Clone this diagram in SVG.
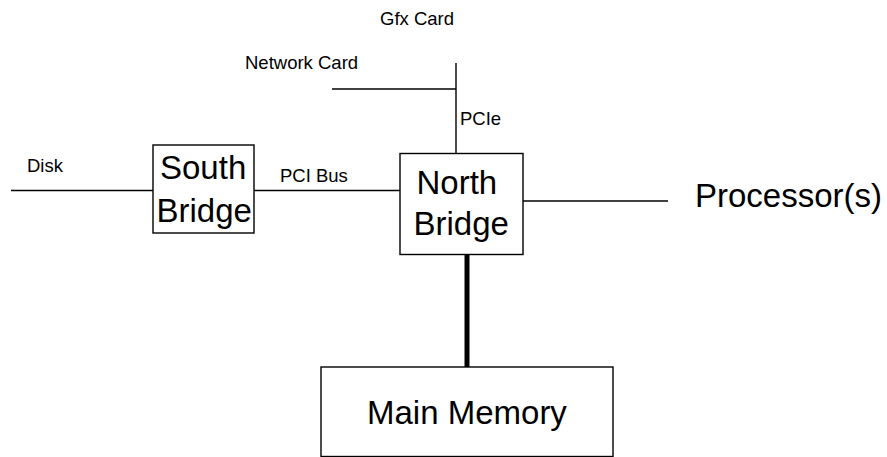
<svg xmlns="http://www.w3.org/2000/svg" width="887" height="457" viewBox="0 0 887 457">
  <style>
    .box { fill: #fff; stroke: #000; stroke-width: 1.4; }
    .wire { stroke: #000; stroke-width: 1.4; fill: none; }
    .bus { stroke: #000; stroke-width: 5; fill: none; }
    .big { font-family: "Liberation Sans", Arial, sans-serif; font-size: 33px; fill: #000; }
    .small { font-family: "Liberation Sans", Arial, sans-serif; font-size: 18.5px; fill: #000; }
  </style>
  <rect width="887" height="457" fill="#fff"/>

  <g id="connectors">
    <line class="wire" x1="11" y1="190.5" x2="153" y2="190.5"/>
    <line class="wire" x1="254" y1="190.5" x2="400" y2="190.5"/>
    <line class="wire" x1="523" y1="201" x2="668" y2="201"/>
    <line class="wire" x1="456" y1="63" x2="456" y2="153"/>
    <line class="wire" x1="332" y1="89" x2="456" y2="89"/>
    <line class="bus" x1="467" y1="254" x2="467" y2="367"/>
  </g>

  <g id="labels">
    <text class="small" x="27" y="171.5">Disk</text>
    <text class="small" x="280" y="181.5">PCI Bus</text>
    <text class="small" x="460" y="125">PCIe</text>
    <text class="small" x="245" y="68.5">Network Card</text>
    <text class="small" x="380" y="24.5">Gfx Card</text>
  </g>

  <g id="south-bridge">
    <rect class="box" x="153" y="145" width="101" height="88"/>
    <text class="big" x="160" y="179">South</text>
    <text class="big" x="156.5" y="222">Bridge</text>
  </g>

  <g id="north-bridge">
    <rect class="box" x="400" y="153.5" width="123" height="101"/>
    <text class="big" x="416.5" y="193.5">North</text>
    <text class="big" x="413.5" y="235">Bridge</text>
  </g>

  <g id="processors">
    <text class="big" x="695" y="207">Processor(s)</text>
  </g>

  <g id="main-memory">
    <rect class="box" x="321" y="367" width="292" height="89.5"/>
    <text class="big" x="367" y="423.5">Main Memory</text>
  </g>
</svg>
